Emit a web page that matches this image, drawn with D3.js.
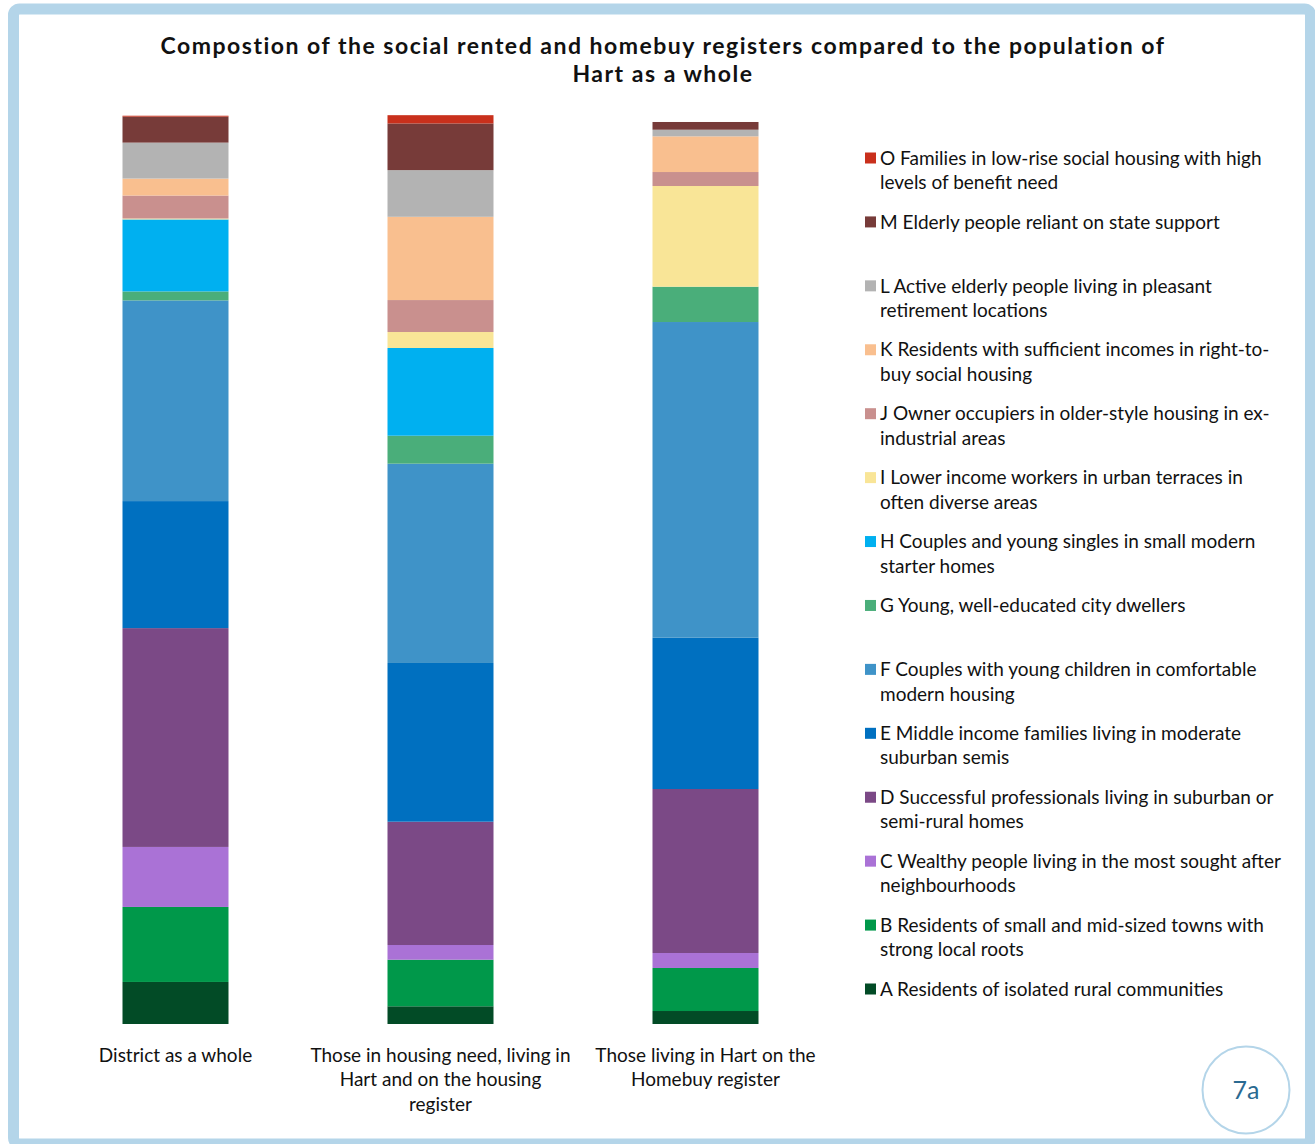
<!DOCTYPE html>
<html>
<head>
<meta charset="utf-8">
<script src="https://cdn.jsdelivr.net/npm/d3@7"></script>
<style>
  html, body { margin: 0; padding: 0; background: #ffffff; }
  svg { display: block; }
  text { font-family: "Lato", "Open Sans", sans-serif; fill: #111; }
</style>
</head>
<body>
<svg id="chart" width="1315" height="1144"></svg>
<script>
// ---- data ----
const titleLines = [
  "Compostion of the social rented and homebuy registers compared to the population of",
  "Hart as a whole"
];
const categories = ["district", "housingNeed", "homebuy"];
const categoryLabels = [
  ["District as a whole"],
  ["Those in housing need, living in", "Hart and on the housing", "register"],
  ["Those living in Hart on the", "Homebuy register"]
];
// segment keys, bottom to top
const segmentKeys = ["A", "B", "C", "D", "E", "F", "G", "H", "I", "J", "K", "L", "M", "O"];
// percentages per bar, in segmentKeys order
const districtValues    = [4.63, 8.26, 6.61, 24.10, 13.99, 22.10, 0.99, 7.93, 0.10, 2.53, 1.87, 3.96, 2.86, 0.10];
const housingNeedValues = [1.95, 5.13, 1.62, 13.58, 17.48, 21.95, 3.08, 9.66, 1.76, 3.52, 9.17, 5.14, 5.14, 0.91];
const homebuyValues     = [1.43, 4.74, 1.65, 18.06, 16.66, 34.77, 3.89, 0.00, 11.09, 1.54, 3.93, 0.73, 0.85, 0.00];
const segmentColors = ["#024b26", "#00984a", "#aa72d6", "#7b4986", "#0070c0", "#3f93c8", "#4aae7a",
                       "#00b0f0", "#f9e597", "#c9908e", "#f9bf8f", "#b3b3b3", "#773b39", "#c9301c"];
// legend entries, top to bottom
const legendKeys = ["O", "M", "L", "K", "J", "I", "H", "G", "F", "E", "D", "C", "B", "A"];
const legendLabels = [
  ["O Families in low-rise social housing with high", "levels of benefit need"],
  ["M Elderly people reliant on state support"],
  ["L Active elderly people living in pleasant", "retirement locations"],
  ["K Residents with sufficient incomes in right-to-", "buy social housing"],
  ["J Owner occupiers in older-style housing in ex-", "industrial areas"],
  ["I Lower income workers in urban terraces in", "often diverse areas"],
  ["H Couples and young singles in small modern", "starter homes"],
  ["G Young, well-educated city dwellers"],
  ["F Couples with young children in comfortable", "modern housing"],
  ["E Middle income families living in moderate", "suburban semis"],
  ["D Successful professionals living in suburban or", "semi-rural homes"],
  ["C Wealthy people living in the most sought after", "neighbourhoods"],
  ["B Residents of small and mid-sized towns with", "strong local roots"],
  ["A Residents of isolated rural communities"]
];
const badgeText = "7a";

// ---- build ----
const svg = d3.select("#chart");
const valuesByCat = [districtValues, housingNeedValues, homebuyValues];
const rows = categories.map((c, i) => {
  const r = { cat: c };
  segmentKeys.forEach((k, j) => r[k] = valuesByCat[i][j]);
  return r;
});
const color = d3.scaleOrdinal().domain(segmentKeys).range(segmentColors);

// frame
svg.append("rect")
  .attr("x", 13.5).attr("y", 9).attr("width", 1297).attr("height", 1135)
  .attr("rx", 6)
  .attr("fill", "#ffffff").attr("stroke", "#b4d5e9").attr("stroke-width", 11);

// title
svg.append("g").selectAll("text").data(titleLines).join("text")
  .attr("x", 663).attr("y", (d, i) => 46 + i * 28)
  .attr("dy", "0.35em")
  .attr("text-anchor", "middle")
  .style("font-weight", "700").style("font-size", "23px")
  .style("letter-spacing", "1.5px")
  .text(d => d);

const x = d3.scaleBand().domain(categories).range([43, 838]).paddingInner(0.6).paddingOuter(0.3);
const y = d3.scaleLinear().domain([0, 100]).range([1024, 116]);

const stack = d3.stack().keys(segmentKeys);
const series = stack(rows);

svg.append("g").selectAll("g").data(series).join("g")
  .attr("fill", d => color(d.key))
  .selectAll("rect").data(d => d).join("rect")
  .attr("x", d => x(d.data.cat))
  .attr("width", x.bandwidth())
  .attr("y", d => y(d[1]))
  .attr("height", d => Math.max(0, y(d[0]) - y(d[1])));

// category labels
const catG = svg.append("g");
categories.forEach((c, i) => {
  catG.append("g").selectAll("text").data(categoryLabels[i]).join("text")
    .attr("x", x(c) + x.bandwidth() / 2)
    .attr("y", (d, j) => 1055 + j * 24.5)
    .attr("dy", "0.35em")
    .attr("text-anchor", "middle")
    .style("font-size", "19px")
    .text(d => d);
});

// legend
const legendY = d3.scalePoint().domain(legendKeys).range([158, 989]);
const lg = svg.append("g").selectAll("g").data(legendKeys).join("g")
  .attr("transform", d => `translate(0,${legendY(d)})`);
lg.append("rect")
  .attr("x", 865).attr("y", -5.5).attr("width", 11).attr("height", 11)
  .attr("fill", d => color(d));
lg.each(function(k, i) {
  d3.select(this).selectAll("text").data(legendLabels[i]).join("text")
    .attr("x", 880).attr("y", (d, j) => j * 24.5)
    .attr("dy", "0.35em")
    .style("font-size", "19px")
    .text(d => d);
});

// badge
svg.append("circle").attr("cx", 1246).attr("cy", 1090).attr("r", 43.5)
  .attr("fill", "#ffffff").attr("stroke", "#b4d5e9").attr("stroke-width", 2);
svg.append("text").attr("x", 1246).attr("y", 1090).attr("dy", "0.35em")
  .attr("text-anchor", "middle")
  .style("font-size", "25px").style("fill", "#2a6a91")
  .text(badgeText);
</script>
</body>
</html>
